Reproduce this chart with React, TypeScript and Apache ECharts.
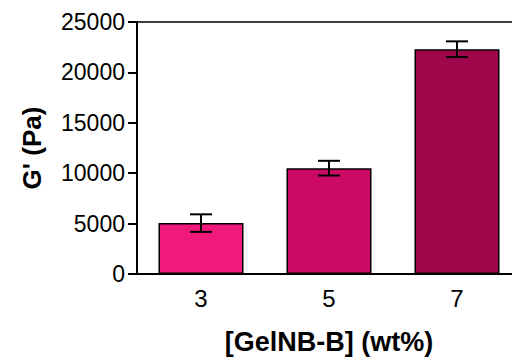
import React, { useEffect, useRef } from "react";
import * as echarts from "echarts";

const categories = ["3", "5", "7"];
const values = [5050, 10500, 22300];
const errors = [870, 730, 780];
const barColors = ["#EF1A7C", "#CC0A65", "#A0064B"];
const yTicks = { min: 0, max: 25000, interval: 5000 };

export default function App() {
  const ref = useRef<HTMLDivElement>(null);
  useEffect(() => {
    if (!ref.current) return;
    const chart = echarts.init(ref.current, null, { renderer: "svg" });
    const font = "'Liberation Sans', Arial, sans-serif";
    chart.setOption({
      animation: false,
      backgroundColor: "#fff",
      grid: {
        left: 137,
        top: 22,
        height: 258,
        width: 384,
        show: true,
        borderColor: "#000",
        borderWidth: 1.5,
        backgroundColor: "transparent",
      },
      xAxis: {
        type: "category",
        data: categories,
        name: "[GelNB-B] (wt%)",
        nameLocation: "middle",
        nameGap: 54,
        nameTextStyle: { fontFamily: font, fontSize: 27, fontWeight: "bold", color: "#000" },
        axisLine: { lineStyle: { color: "#000", width: 2 } },
        axisTick: { alignWithLabel: true, length: 8, lineStyle: { color: "#000", width: 2 } },
        axisLabel: { fontFamily: font, fontSize: 24, color: "#000", margin: 12 },
      },
      yAxis: {
        type: "value",
        min: yTicks.min,
        max: yTicks.max,
        interval: yTicks.interval,
        name: "G' (Pa)",
        nameLocation: "middle",
        nameRotate: 90,
        nameGap: 92,
        nameTextStyle: { fontFamily: font, fontSize: 26, fontWeight: "bold", color: "#000" },
        axisLine: { show: true, lineStyle: { color: "#000", width: 2 } },
        axisTick: { show: true, length: 9, lineStyle: { color: "#000", width: 2 } },
        axisLabel: {
          fontFamily: font,
          fontSize: 23,
          color: "#000",
          margin: 12,
          formatter: (v: number) => String(v),
        },
        splitLine: { show: false },
      },
      series: [
        {
          type: "bar",
          barWidth: 85,
          data: values.map((v, i) => ({
            value: v,
            itemStyle: { color: barColors[i], borderColor: "#000", borderWidth: 1.5 },
          })),
        },
        {
          type: "custom",
          data: values.map((v, i) => [i, v - errors[i], v + errors[i]]),
          renderItem: (params: any, api: any) => {
            const x = api.value(0);
            const lo = api.coord([x, api.value(1)]);
            const hi = api.coord([x, api.value(2)]);
            const half = 11;
            const style = { stroke: "#000", lineWidth: 2 };
            return {
              type: "group",
              children: [
                { type: "line", shape: { x1: lo[0], y1: lo[1], x2: hi[0], y2: hi[1] }, style },
                { type: "line", shape: { x1: hi[0] - half, y1: hi[1], x2: hi[0] + half, y2: hi[1] }, style },
                { type: "line", shape: { x1: lo[0] - half, y1: lo[1], x2: lo[0] + half, y2: lo[1] }, style },
              ],
            };
          },
          z: 10,
        },
      ],
    });
    return () => chart.dispose();
  }, []);
  return (
    <div style={{ width: 512, height: 360, position: "absolute", left: 0, top: 0, overflow: "hidden", background: "#fff" }}>
      <div ref={ref} style={{ width: 540, height: 360 }} />
    </div>
  );
}
